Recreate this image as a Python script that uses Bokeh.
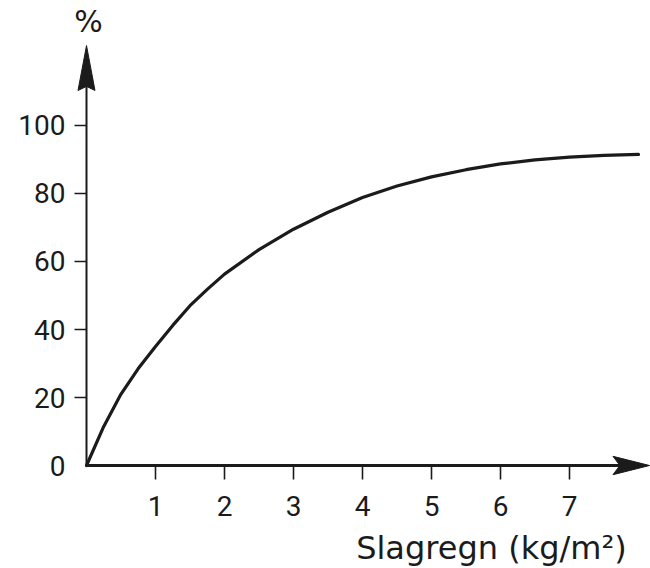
from bokeh.plotting import figure
from bokeh.models import FixedTicker, Label, LinearAxis, Range1d
from bokeh.embed import file_html
from bokeh.resources import INLINE

# ---- data ----
slagregn = [0, 0.25, 0.5, 0.75, 1.0, 1.25, 1.5, 1.75, 2.0, 2.5, 3.0, 3.5, 4.0,
            4.5, 5.0, 5.5, 6.0, 6.5, 7.0, 7.5, 8.0]
percent = [0, 11.5, 21.0, 28.5, 35.0, 41.2, 47.0, 51.8, 56.3, 63.5, 69.5, 74.5,
           78.8, 82.2, 84.9, 87.0, 88.7, 89.9, 90.7, 91.2, 91.5]
x_ticks = [1, 2, 3, 4, 5, 6, 7]
y_ticks = [0, 20, 40, 60, 80, 100]
y_label = "%"
x_label = "Slagregn (kg/m²)"

# axis extents (data units)
X_END = 8.16
Y_END = 123.5

INK = "#1b1b1b"

p = figure(width=650, height=568, output_backend="svg", toolbar_location=None,
           title=None, x_axis_type=None, y_axis_type=None,
           min_border_left=0, min_border_right=0, min_border_top=0, min_border_bottom=0)
p.x_range = Range1d(-1.2464, 8.1739)
p.y_range = Range1d(-30.29, 136.76)
p.background_fill_color = "white"
p.border_fill_color = "white"
p.outline_line_color = None

# ---- axes (ticks + labels), pinned at the origin ----
xaxis = LinearAxis(ticker=FixedTicker(ticks=x_ticks), fixed_location=0)
xaxis.axis_line_alpha = 0
xaxis.major_tick_out = 14
xaxis.major_tick_in = 0
xaxis.major_tick_line_width = 1.6
xaxis.major_tick_line_color = INK
xaxis.minor_tick_line_color = None
xaxis.major_label_standoff = 16
xaxis.major_label_text_font = "Roboto"
xaxis.major_label_text_font_size = "28px"
xaxis.major_label_text_color = INK
p.add_layout(xaxis, "below")

yaxis = LinearAxis(ticker=FixedTicker(ticks=y_ticks, minor_ticks=y_ticks[1:]),
                   fixed_location=0)
yaxis.axis_line_alpha = 0
yaxis.major_tick_out = 0
yaxis.major_tick_in = 0
yaxis.major_tick_line_color = None
yaxis.minor_tick_out = 12
yaxis.minor_tick_in = 0
yaxis.minor_tick_line_width = 1.6
yaxis.minor_tick_line_color = INK
yaxis.major_label_standoff = 9
yaxis.major_label_text_font = "Roboto"
yaxis.major_label_text_font_size = "28px"
yaxis.major_label_text_color = INK
p.add_layout(yaxis, "left")

# ---- axis lines with arrow heads ----
p.line([0, X_END - 0.3], [0, 0], line_width=3, line_color=INK)
p.line([0, 0], [0, Y_END - 8], line_width=2, line_color=INK)

xa_len, xa_half, xa_notch = 0.53, 2.7, 0.43
p.patch([X_END, X_END - xa_len, X_END - xa_notch, X_END - xa_len],
        [0, xa_half, 0, -xa_half], fill_color=INK, line_color=INK, line_width=1)
ya_len, ya_half, ya_notch = 13.2, 0.123, 12.0
p.patch([0, ya_half, 0, -ya_half],
        [Y_END, Y_END - ya_len, Y_END - ya_notch, Y_END - ya_len],
        fill_color=INK, line_color=INK, line_width=1)

# ---- the curve ----
p.line(slagregn, percent, line_width=3.2, line_color=INK, line_cap="round")

# ---- axis titles ----
p.add_layout(Label(x=0.03, y=130.6, text=y_label, text_align="center",
                   text_baseline="middle", text_font="DejaVu Sans",
                   text_font_size="30px", text_color=INK))
p.add_layout(Label(x=7.83, y=-24.2, text=x_label, text_align="right",
                   text_baseline="middle", text_font="DejaVu Sans",
                   text_font_size="32px", text_color=INK))

open("out.html", "w").write(file_html(p, INLINE))
